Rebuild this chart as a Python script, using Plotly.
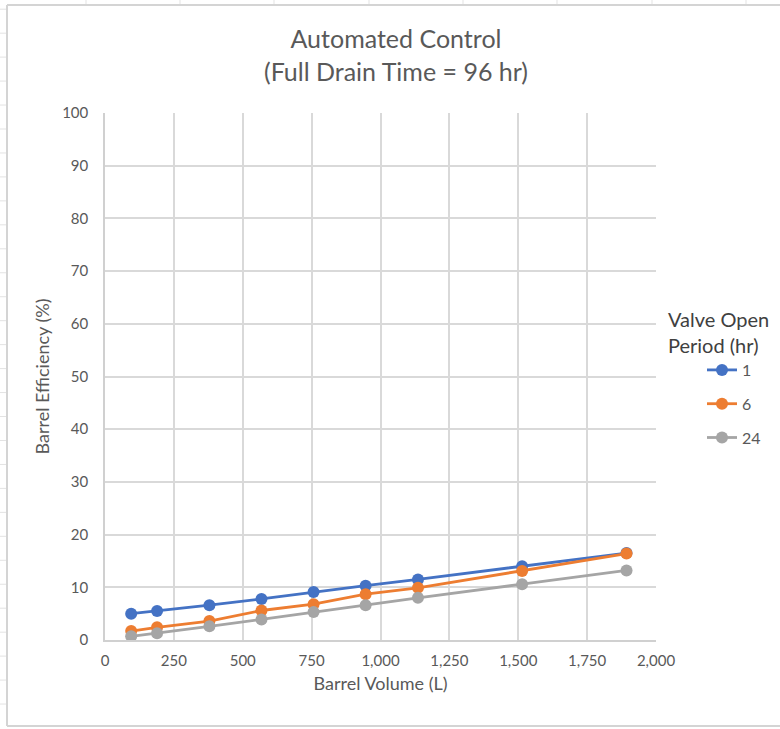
import plotly.graph_objects as go

# ---------------- data ----------------
volume_L = [95, 189, 379, 568, 757, 946, 1136, 1514, 1893]
eff_1hr = [5.0, 5.5, 6.6, 7.8, 9.1, 10.3, 11.5, 14.0, 16.5]
eff_6hr = [1.7, 2.4, 3.6, 5.6, 6.8, 8.7, 9.9, 13.1, 16.4]
eff_24hr = [0.7, 1.3, 2.6, 3.9, 5.3, 6.6, 8.0, 10.6, 13.2]
series_names = ["1", "6", "24"]
x_ticks = [0, 250, 500, 750, 1000, 1250, 1500, 1750, 2000]
y_ticks = [0, 10, 20, 30, 40, 50, 60, 70, 80, 90, 100]

colors = ["#4472C4", "#ED7D31", "#A5A5A5"]
FONT = "Lato, 'Open Sans', sans-serif"
TXT = "#595959"

W, H = 780, 729
L, R, T, B = 105, 656, 113, 640  # plot area in pixels


def xp(px):
    return (px - L) / (R - L)


def yp(py):
    return (B - py) / (B - T)


fig = go.Figure()
for name, ys, c in zip(series_names, [eff_1hr, eff_6hr, eff_24hr], colors):
    fig.add_trace(go.Scatter(
        x=volume_L, y=ys, name=name, mode="lines+markers",
        legendgroup=name,
        line=dict(color=c, width=2.8),
        marker=dict(color=c, size=12, symbol="circle"),
    ))

shapes = []
grid_c = "#E3E3E3"
# spreadsheet cell lines outside the chart area (left strip and top strip)
k = -5
while True:
    py = 129 + k * 23.96
    if py > 726:
        break
    if py > 6:
        shapes.append(dict(type="line", xref="paper", yref="paper",
                           x0=xp(0), x1=xp(7), y0=yp(py), y1=yp(py),
                           line=dict(color=grid_c, width=1), layer="below"))
    k += 1
for px in [86, 180, 274, 369, 463, 557, 652, 746]:
    shapes.append(dict(type="line", xref="paper", yref="paper",
                       x0=xp(px), x1=xp(px), y0=yp(0), y1=yp(5),
                       line=dict(color=grid_c, width=1), layer="below"))
# chart area border
border_c = "#D4D4D4"
shapes.append(dict(type="line", xref="paper", yref="paper",
                   x0=xp(7), x1=xp(7), y0=yp(5), y1=yp(726),
                   line=dict(color=border_c, width=2)))
shapes.append(dict(type="line", xref="paper", yref="paper",
                   x0=xp(7), x1=xp(790), y0=yp(5), y1=yp(5),
                   line=dict(color=border_c, width=2)))
shapes.append(dict(type="line", xref="paper", yref="paper",
                   x0=xp(7), x1=xp(790), y0=yp(726), y1=yp(726),
                   line=dict(color=border_c, width=2)))

fig.update_layout(
    width=W, height=H,
    margin=dict(l=L, r=W - R, t=T, b=H - B, pad=0, autoexpand=False),
    paper_bgcolor="white", plot_bgcolor="white",
    font=dict(family=FONT, color=TXT, size=15),
    title=dict(text="Automated Control<br>(Full Drain Time = 96 hr)",
               x=396 / W, xanchor="center", xref="container",
               y=1 - 48 / H, yanchor="middle", yref="container",
               font=dict(family=FONT, size=25, color=TXT)),
    xaxis=dict(range=[0, 2000], tickvals=x_ticks, tickformat=",d",
               showgrid=True, gridcolor="#D9D9D9", gridwidth=1.5,
               zeroline=False, showline=True, linecolor="#D0D0D0", linewidth=1.5,
               ticks="outside", ticklen=6, tickcolor="rgba(0,0,0,0)",
               tickfont=dict(size=15, color=TXT),
               title=dict(text="Barrel Volume (L)", standoff=10,
                          font=dict(size=18, color=TXT))),
    yaxis=dict(range=[0, 100], tickvals=y_ticks,
               showgrid=True, gridcolor="#D9D9D9", gridwidth=1.5,
               zeroline=False, showline=True, linecolor="#D0D0D0", linewidth=1.5,
               ticks="outside", ticklen=12, tickcolor="rgba(0,0,0,0)",
               tickfont=dict(size=15, color=TXT),
               title=dict(text="Barrel Efficiency (%)", standoff=8,
                          font=dict(size=18, color=TXT))),
    legend=dict(x=xp(666), y=yp(301), xanchor="left", yanchor="top",
                title=dict(text="Valve Open<br>Period (hr)",
                           font=dict(size=20, color="#404040")),
                font=dict(size=16, color=TXT),
                indentation=36, tracegroupgap=10,
                itemwidth=30, bgcolor="rgba(0,0,0,0)"),
    shapes=shapes,
    showlegend=True,
)

fig.write_html("out.html")
